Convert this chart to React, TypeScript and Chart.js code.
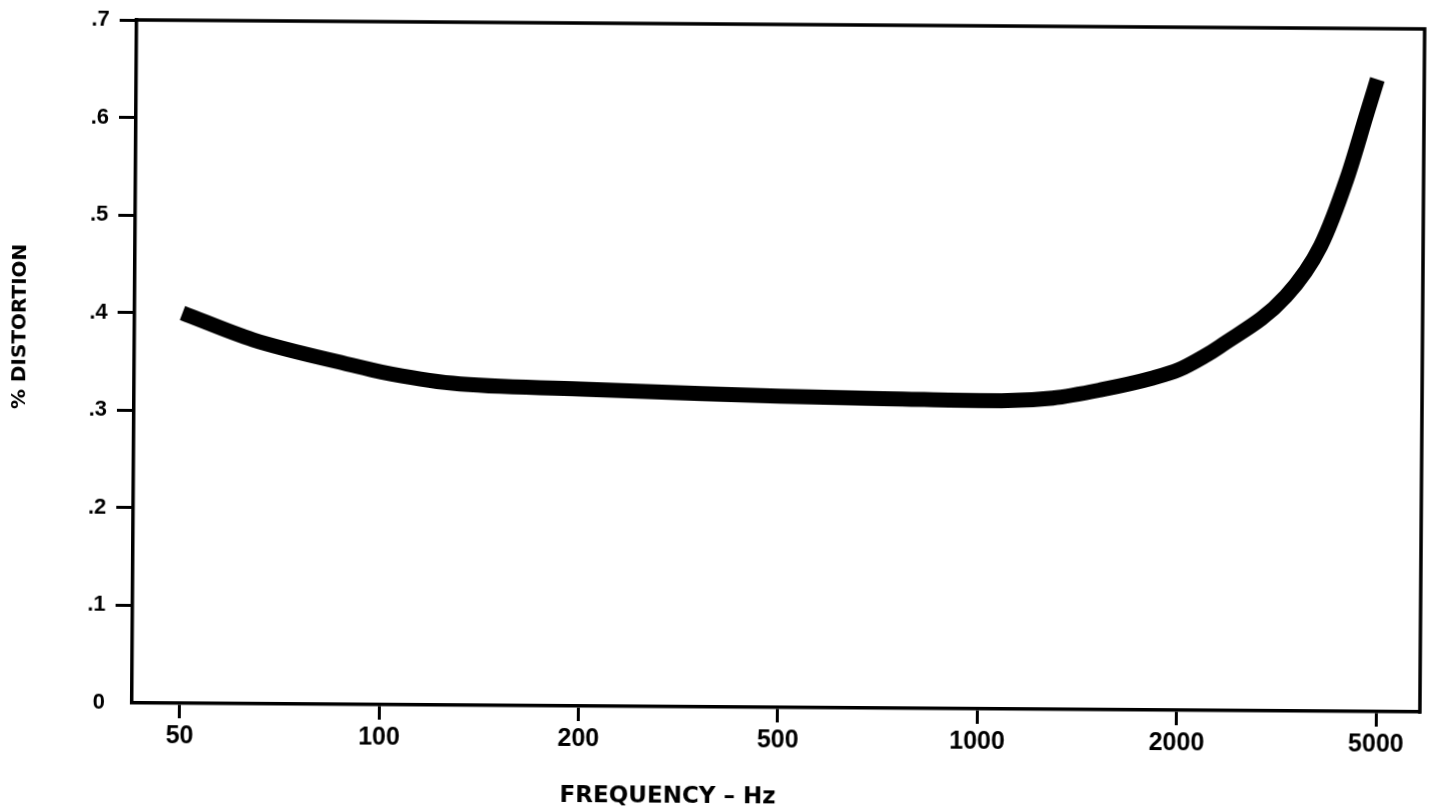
import React, { useEffect, useRef } from "react";
import { Chart, registerables } from "chart.js";

Chart.register(...registerables);

// ---- data ----
const freqTicks = [50, 100, 200, 500, 1000, 2000, 5000];
const freqTickLabels = ["50", "100", "200", "500", "1000", "2000", "5000"];
const distTicks = [0, 0.1, 0.2, 0.3, 0.4, 0.5, 0.6, 0.7];
const distTickLabels = ["0", ".1", ".2", ".3", ".4", ".5", ".6", ".7"];

const curveFreqHz = [50, 64, 90, 100, 128, 200, 350, 500, 765, 1000, 1080, 1290, 1530, 1820, 2000, 2230, 2410, 3260, 3820, 4300, 4710, 4930];
const curveDistortion = [0.4, 0.373, 0.348, 0.341, 0.33, 0.325, 0.321, 0.319, 0.317, 0.316, 0.316, 0.319, 0.328, 0.34, 0.349, 0.362, 0.373, 0.425, 0.477, 0.546, 0.614, 0.648];

const xTitle = "FREQUENCY \u2013 Hz";
const yTitle = "% DISTORTION";

// the printed frequency axis places its labelled values at equal steps;
// between two labels the position follows the logarithm of frequency
function toAxis(f: number): number {
  for (let k = 0; k < freqTicks.length - 1; k++) {
    const a = freqTicks[k];
    const b = freqTicks[k + 1];
    if (f <= b || k === freqTicks.length - 2) {
      return k + Math.log(f / a) / Math.log(b / a);
    }
  }
  return 0;
}

const framePlugin = {
  id: "frame",
  afterDatasetsDraw(chart: any) {
    const { ctx, chartArea } = chart;
    ctx.save();
    ctx.strokeStyle = "#000";
    ctx.lineWidth = 3.5;
    ctx.lineCap = "square";
    ctx.beginPath();
    ctx.moveTo(chartArea.left, chartArea.top);
    ctx.lineTo(chartArea.right, chartArea.top);
    ctx.lineTo(chartArea.right, chartArea.bottom);
    ctx.stroke();
    ctx.restore();
  },
};

const titlesPlugin = {
  id: "titles",
  afterDraw(chart: any) {
    const { ctx, chartArea } = chart;
    const xs = chart.scales.x;
    const ys = chart.scales.y;
    ctx.save();
    ctx.fillStyle = "#000";
    ctx.textAlign = "center";
    ctx.textBaseline = "middle";
    ctx.font = 'bold 23px "DejaVu Sans"';
    ctx.fillText(xTitle, xs.getPixelForValue(2.45), chartArea.bottom + 90);
    ctx.translate(20, ys.getPixelForValue(0.385));
    ctx.rotate(-Math.PI / 2);
    ctx.font = 'bold 20px "DejaVu Sans"';
    ctx.fillText(yTitle, 0, 0);
    ctx.restore();
  },
};

export default function App() {
  const canvasRef = useRef<HTMLCanvasElement | null>(null);

  useEffect(() => {
    document.body.style.margin = "0";
    const canvas = canvasRef.current;
    if (!canvas) return;

    const points = curveFreqHz.map((f, k) => ({ x: toAxis(f), y: curveDistortion[k] }));

    const chart = new Chart(canvas, {
      type: "line",
      data: {
        datasets: [
          {
            data: points,
            borderColor: "#000",
            backgroundColor: "#000",
            borderWidth: 15,
            pointRadius: 0,
            fill: false,
            cubicInterpolationMode: "monotone",
            borderCapStyle: "butt",
          },
        ],
      },
      options: {
        animation: false,
        responsive: true,
        maintainAspectRatio: false,
        layout: { padding: { top: 24, right: 9, left: 0, bottom: 0 } },
        plugins: {
          legend: { display: false },
          tooltip: { enabled: false },
        },
        scales: {
          x: {
            type: "linear",
            min: -0.24,
            max: 6.22,
            afterBuildTicks: (s: any) => {
              s.ticks = freqTicks.map((_, i) => ({ value: i }));
            },
            afterFit: (s: any) => {
              s.height = 104;
            },
            ticks: {
              callback: (v: any) => freqTickLabels[v] ?? "",
              color: "#000",
              font: { family: '"Liberation Sans", Arial, sans-serif', size: 25, weight: "bold" },
              padding: 3,
              maxRotation: 0,
              autoSkip: false,
            },
            grid: {
              drawOnChartArea: false,
              drawTicks: true,
              tickLength: 15,
              tickWidth: 3,
              tickColor: "#000",
            },
            border: { display: true, color: "#000", width: 3.5 },
          },
          y: {
            type: "linear",
            min: 0,
            max: 0.7,
            afterBuildTicks: (s: any) => {
              s.ticks = distTicks.map((v) => ({ value: v }));
            },
            afterFit: (s: any) => {
              s.width = 134;
            },
            ticks: {
              callback: (_v: any, i: number) => distTickLabels[i],
              color: "#000",
              font: { family: '"Liberation Sans", Arial, sans-serif', size: 22, weight: "bold" },
              padding: 10,
            },
            grid: {
              drawOnChartArea: false,
              drawTicks: true,
              tickLength: 17,
              tickWidth: 3,
              tickColor: (c: any) => (c.tick && c.tick.value === 0 ? "rgba(0,0,0,0)" : "#000"),
            },
            border: { display: true, color: "#000", width: 3.5 },
          },
        },
      },
      plugins: [framePlugin, titlesPlugin],
    } as any);

    return () => chart.destroy();
  }, []);

  return (
    <div style={{ width: 1431, height: 811, position: "relative", background: "#fff", transform: "rotate(0.4deg)" }}>
      <canvas ref={canvasRef} />
    </div>
  );
}
